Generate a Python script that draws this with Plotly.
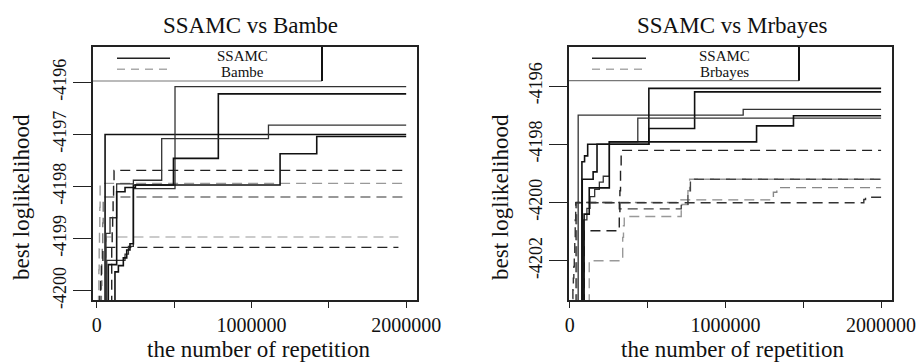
import plotly.graph_objects as go

W, H = 918, 363

# ---------------- tick data ----------------
x_tickvals = [0, 500000, 1000000, 1500000, 2000000]
x_ticktext = ["0", "", "1000000", "", "2000000"]
left_y_tickvals = [-4200, -4199, -4198, -4197, -4196]
left_y_ticktext = ["-4200", "-4199", "-4198", "-4197", "-4196"]
right_y_tickvals = [-4202, -4200, -4198, -4196]
right_y_ticktext = ["-4202", "-4200", "-4198", "-4196"]

titles = ["SSAMC vs Bambe", "SSAMC vs Mrbayes"]
legend_left = ["SSAMC", "Bambe"]
legend_right = ["SSAMC", "Brbayes"]
x_title = "the number of repetition"
y_title = "best loglikelihood"

# ---------------- left panel: SSAMC runs (solid) ----------------
bam_ssamc1_x = [54000, 54000, 2000000]
bam_ssamc1_y = [-4200.6, -4197.00, -4197.00]
bam_ssamc2_x = [65000, 65000, 183000, 205000, 237000, 506000, 2000000]
bam_ssamc2_y = [-4200.6, -4199.42, -4199.30, -4199.15, -4198.04, -4196.08, -4196.08]
bam_ssamc3_x = [118000, 118000, 140000, 172000, 194000, 215000, 237000, 496000, 786000, 2000000]
bam_ssamc3_y = [-4200.6, -4199.64, -4199.52, -4199.37, -4199.22, -4199.10, -4197.97, -4197.46, -4196.22, -4196.22]
bam_ssamc4_x = [60000, 60000, 86000, 129000, 237000, 420000, 1110000, 2000000]
bam_ssamc4_y = [-4200.6, -4198.90, -4198.60, -4197.95, -4197.88, -4197.08, -4196.82, -4196.82]
bam_ssamc5_x = [75000, 75000, 129000, 183000, 250000, 1185000, 1422000, 2000000]
bam_ssamc5_y = [-4200.6, -4199.50, -4198.10, -4198.02, -4197.97, -4197.37, -4197.04, -4197.04]

# ---------------- left panel: Bambe runs (dashed) ----------------
bambe1_x = [97000, 97000, 100000, 103000, 106000, 109000, 112000, 2000000]
bambe1_y = [-4200.6, -4199.10, -4198.80, -4198.50, -4198.20, -4197.90, -4197.69, -4197.69]
bambe2_x = [12000, 12000, 14000, 16000, 18000, 20000, 22000, 2000000]
bambe2_y = [-4200.6, -4200.00, -4199.60, -4199.20, -4198.80, -4198.40, -4197.94, -4197.94]
bambe3_x = [30000, 30000, 33000, 36000, 39000, 42000, 2000000]
bambe3_y = [-4200.6, -4199.90, -4199.50, -4199.10, -4198.70, -4198.20, -4198.20]
bambe4_x = [62000, 62000, 1950000]
bambe4_y = [-4200.6, -4198.97, -4198.97]
bambe5_x = [20000, 20000, 25000, 30000, 40000, 1950000]
bambe5_y = [-4200.6, -4200.10, -4199.80, -4199.50, -4199.17, -4199.17]

# ---------------- right panel: SSAMC runs (solid) ----------------
mb_ssamc1_x = [54000, 54000, 1114000, 2000000]
mb_ssamc1_y = [-4203.5, -4197.00, -4196.80, -4196.80]
mb_ssamc2_x = [78000, 78000, 95000, 115000, 508000, 2000000]
mb_ssamc2_y = [-4203.5, -4198.60, -4198.40, -4198.00, -4196.08, -4196.08]
mb_ssamc3_x = [80000, 80000, 150000, 175000, 508000, 802000, 2000000]
mb_ssamc3_y = [-4203.5, -4199.20, -4198.95, -4198.00, -4197.46, -4196.20, -4196.20]
mb_ssamc4_x = [88000, 88000, 110000, 130000, 160000, 190000, 215000, 254000, 437000, 2000000]
mb_ssamc4_y = [-4203.5, -4200.60, -4200.20, -4199.80, -4199.55, -4199.30, -4199.10, -4197.92, -4197.10, -4197.10]
mb_ssamc5_x = [92000, 92000, 125000, 254000, 1200000, 1437000, 2000000]
mb_ssamc5_y = [-4203.5, -4200.40, -4199.50, -4197.92, -4197.37, -4197.02, -4197.02]

# ---------------- right panel: Mrbayes runs (dashed) ----------------
mrb1_x = [92000, 92000, 318000, 322000, 326000, 330000, 2000000]
mrb1_y = [-4203.5, -4200.97, -4200.50, -4199.60, -4198.80, -4198.21, -4198.21]
mrb2_x = [125000, 125000, 340000, 345000, 350000, 716000, 759000, 770000, 2000000]
mrb2_y = [-4203.5, -4202.00, -4201.20, -4200.80, -4200.48, -4200.07, -4199.60, -4199.20, -4199.20]
mrb3_x = [40000, 40000, 318000, 716000, 759000, 775000, 802000, 2000000]
mrb3_y = [-4203.5, -4200.00, -4200.22, -4200.10, -4199.60, -4199.25, -4199.20, -4199.20]
mrb4_x = [45000, 45000, 690000, 1308000, 1330000, 2000000]
mrb4_y = [-4203.5, -4200.00, -4199.91, -4199.65, -4199.49, -4199.49]
mrb5_x = [17000, 20000, 23000, 26000, 29000, 32000, 35000, 38000, 1889000, 1900000, 2000000]
mrb5_y = [-4203.3, -4203.0, -4202.6, -4202.2, -4201.8, -4201.2, -4200.6, -4200.01, -4199.90, -4199.82, -4199.82]

FONT = "Liberation Serif"
INK = "#111111"

fig = go.Figure()

def add_run(x, y, axis, color, width, dash="solid"):
    fig.add_trace(go.Scatter(
        x=x, y=y, mode="lines", line_shape="hv",
        line=dict(color=color, width=width, dash=dash),
        xaxis="x" if axis == 1 else "x2",
        yaxis="y" if axis == 1 else "y2",
        showlegend=False, hoverinfo="skip"))

DASH = "10px,6px"
# left panel
add_run(bambe4_x, bambe4_y, 1, "#bbbbbb", 1.4, DASH)
add_run(bambe2_x, bambe2_y, 1, "#999999", 1.4, DASH)
add_run(bambe3_x, bambe3_y, 1, "#777777", 1.4, DASH)
add_run(bambe5_x, bambe5_y, 1, "#222222", 1.4, DASH)
add_run(bambe1_x, bambe1_y, 1, "#222222", 1.4, DASH)
add_run(bam_ssamc1_x, bam_ssamc1_y, 1, "#111111", 1.6)
add_run(bam_ssamc2_x, bam_ssamc2_y, 1, "#333333", 1.3)
add_run(bam_ssamc3_x, bam_ssamc3_y, 1, "#111111", 1.6)
add_run(bam_ssamc4_x, bam_ssamc4_y, 1, "#333333", 1.3)
add_run(bam_ssamc5_x, bam_ssamc5_y, 1, "#111111", 1.6)
# right panel
add_run(mrb2_x, mrb2_y, 2, "#999999", 1.4, DASH)
add_run(mrb4_x, mrb4_y, 2, "#888888", 1.4, DASH)
add_run(mrb3_x, mrb3_y, 2, "#444444", 1.4, DASH)
add_run(mrb5_x, mrb5_y, 2, "#333333", 1.4, DASH)
add_run(mrb1_x, mrb1_y, 2, "#222222", 1.4, DASH)
add_run(mb_ssamc1_x, mb_ssamc1_y, 2, "#333333", 1.3)
add_run(mb_ssamc2_x, mb_ssamc2_y, 2, "#111111", 1.6)
add_run(mb_ssamc3_x, mb_ssamc3_y, 2, "#111111", 1.6)
add_run(mb_ssamc4_x, mb_ssamc4_y, 2, "#333333", 1.3)
add_run(mb_ssamc5_x, mb_ssamc5_y, 2, "#111111", 1.6)

def px(x):
    return x / W

def py(y):
    return 1 - y / H

axis_common = dict(
    showline=True, mirror=True, linecolor="#222222", linewidth=1.5,
    showgrid=False, zeroline=False, ticks="outside", tickcolor="#222222",
    tickwidth=1.2,
)
xfont = dict(family=FONT, size=20, color=INK)
yfont = dict(family=FONT, size=18, color=INK)

fig.update_layout(
    width=W, height=H, template="none",
    paper_bgcolor="white", plot_bgcolor="white",
    margin=dict(l=0, r=0, t=0, b=0),
    showlegend=False,
    xaxis=dict(domain=[px(93), px(417)], range=[-24000, 2070000],
               tickvals=x_tickvals, ticktext=x_ticktext, ticklen=6,
               anchor="y", tickfont=xfont, **axis_common),
    yaxis=dict(domain=[py(300), py(47)], range=[-4200.18, -4195.32],
               tickvals=left_y_tickvals, ticktext=left_y_ticktext,
               ticklen=18, tickangle=-90, anchor="x", tickfont=yfont,
               **axis_common),
    xaxis2=dict(domain=[px(569), px(892)], range=[-5000, 2070000],
                tickvals=x_tickvals, ticktext=x_ticktext, ticklen=6,
                anchor="y2", tickfont=xfont, **axis_common),
    yaxis2=dict(domain=[py(300), py(47)], range=[-4203.35, -4194.66],
                tickvals=right_y_tickvals, ticktext=right_y_ticktext,
                ticklen=18, tickangle=-90, anchor="x2", tickfont=yfont,
                **axis_common),
)

annotations = []
shapes = []

def text(x, y, s, size, angle=0):
    annotations.append(dict(x=px(x), y=py(y), xref="paper", yref="paper",
                            text=s, showarrow=False, textangle=angle,
                            xanchor="center", yanchor="middle",
                            font=dict(family=FONT, size=size, color=INK)))

# titles and axis titles
text(250, 25, titles[0], 23)
text(732, 25, titles[1], 23)
text(258, 349, x_title, 23)
text(732, 349, x_title, 23)
text(21, 197, y_title, 23, -90)
text(500, 197, y_title, 23, -90)

def legend(x0, x1, bottom, lx0, lx1, tx, labels):
    shapes.append(dict(type="line", xref="paper", yref="paper",
                       x0=px(x0), x1=px(x1), y0=py(bottom), y1=py(bottom),
                       line=dict(color="#777777", width=1.2)))
    shapes.append(dict(type="line", xref="paper", yref="paper",
                       x0=px(x1), x1=px(x1), y0=py(47), y1=py(bottom),
                       line=dict(color="#111111", width=2)))
    shapes.append(dict(type="line", xref="paper", yref="paper",
                       x0=px(lx0), x1=px(lx1), y0=py(58.3), y1=py(58.3),
                       line=dict(color="#222222", width=1.6)))
    shapes.append(dict(type="line", xref="paper", yref="paper",
                       x0=px(lx0), x1=px(lx1), y0=py(69.3), y1=py(69.3),
                       line=dict(color="#aaaaaa", width=1.4, dash="8px,6px")))
    text(tx, 56.5, labels[0], 15)
    text(tx, 72.5, labels[1], 15)

legend(93, 322, 81, 117, 170, 242, legend_left)
legend(569, 799, 80.7, 592, 646, 724, legend_right)

fig.update_layout(annotations=annotations, shapes=shapes)

fig.write_html("out.html", config={"displayModeBar": False},
               post_script="document.body.style.margin='0';document.body.style.overflow='hidden';")
